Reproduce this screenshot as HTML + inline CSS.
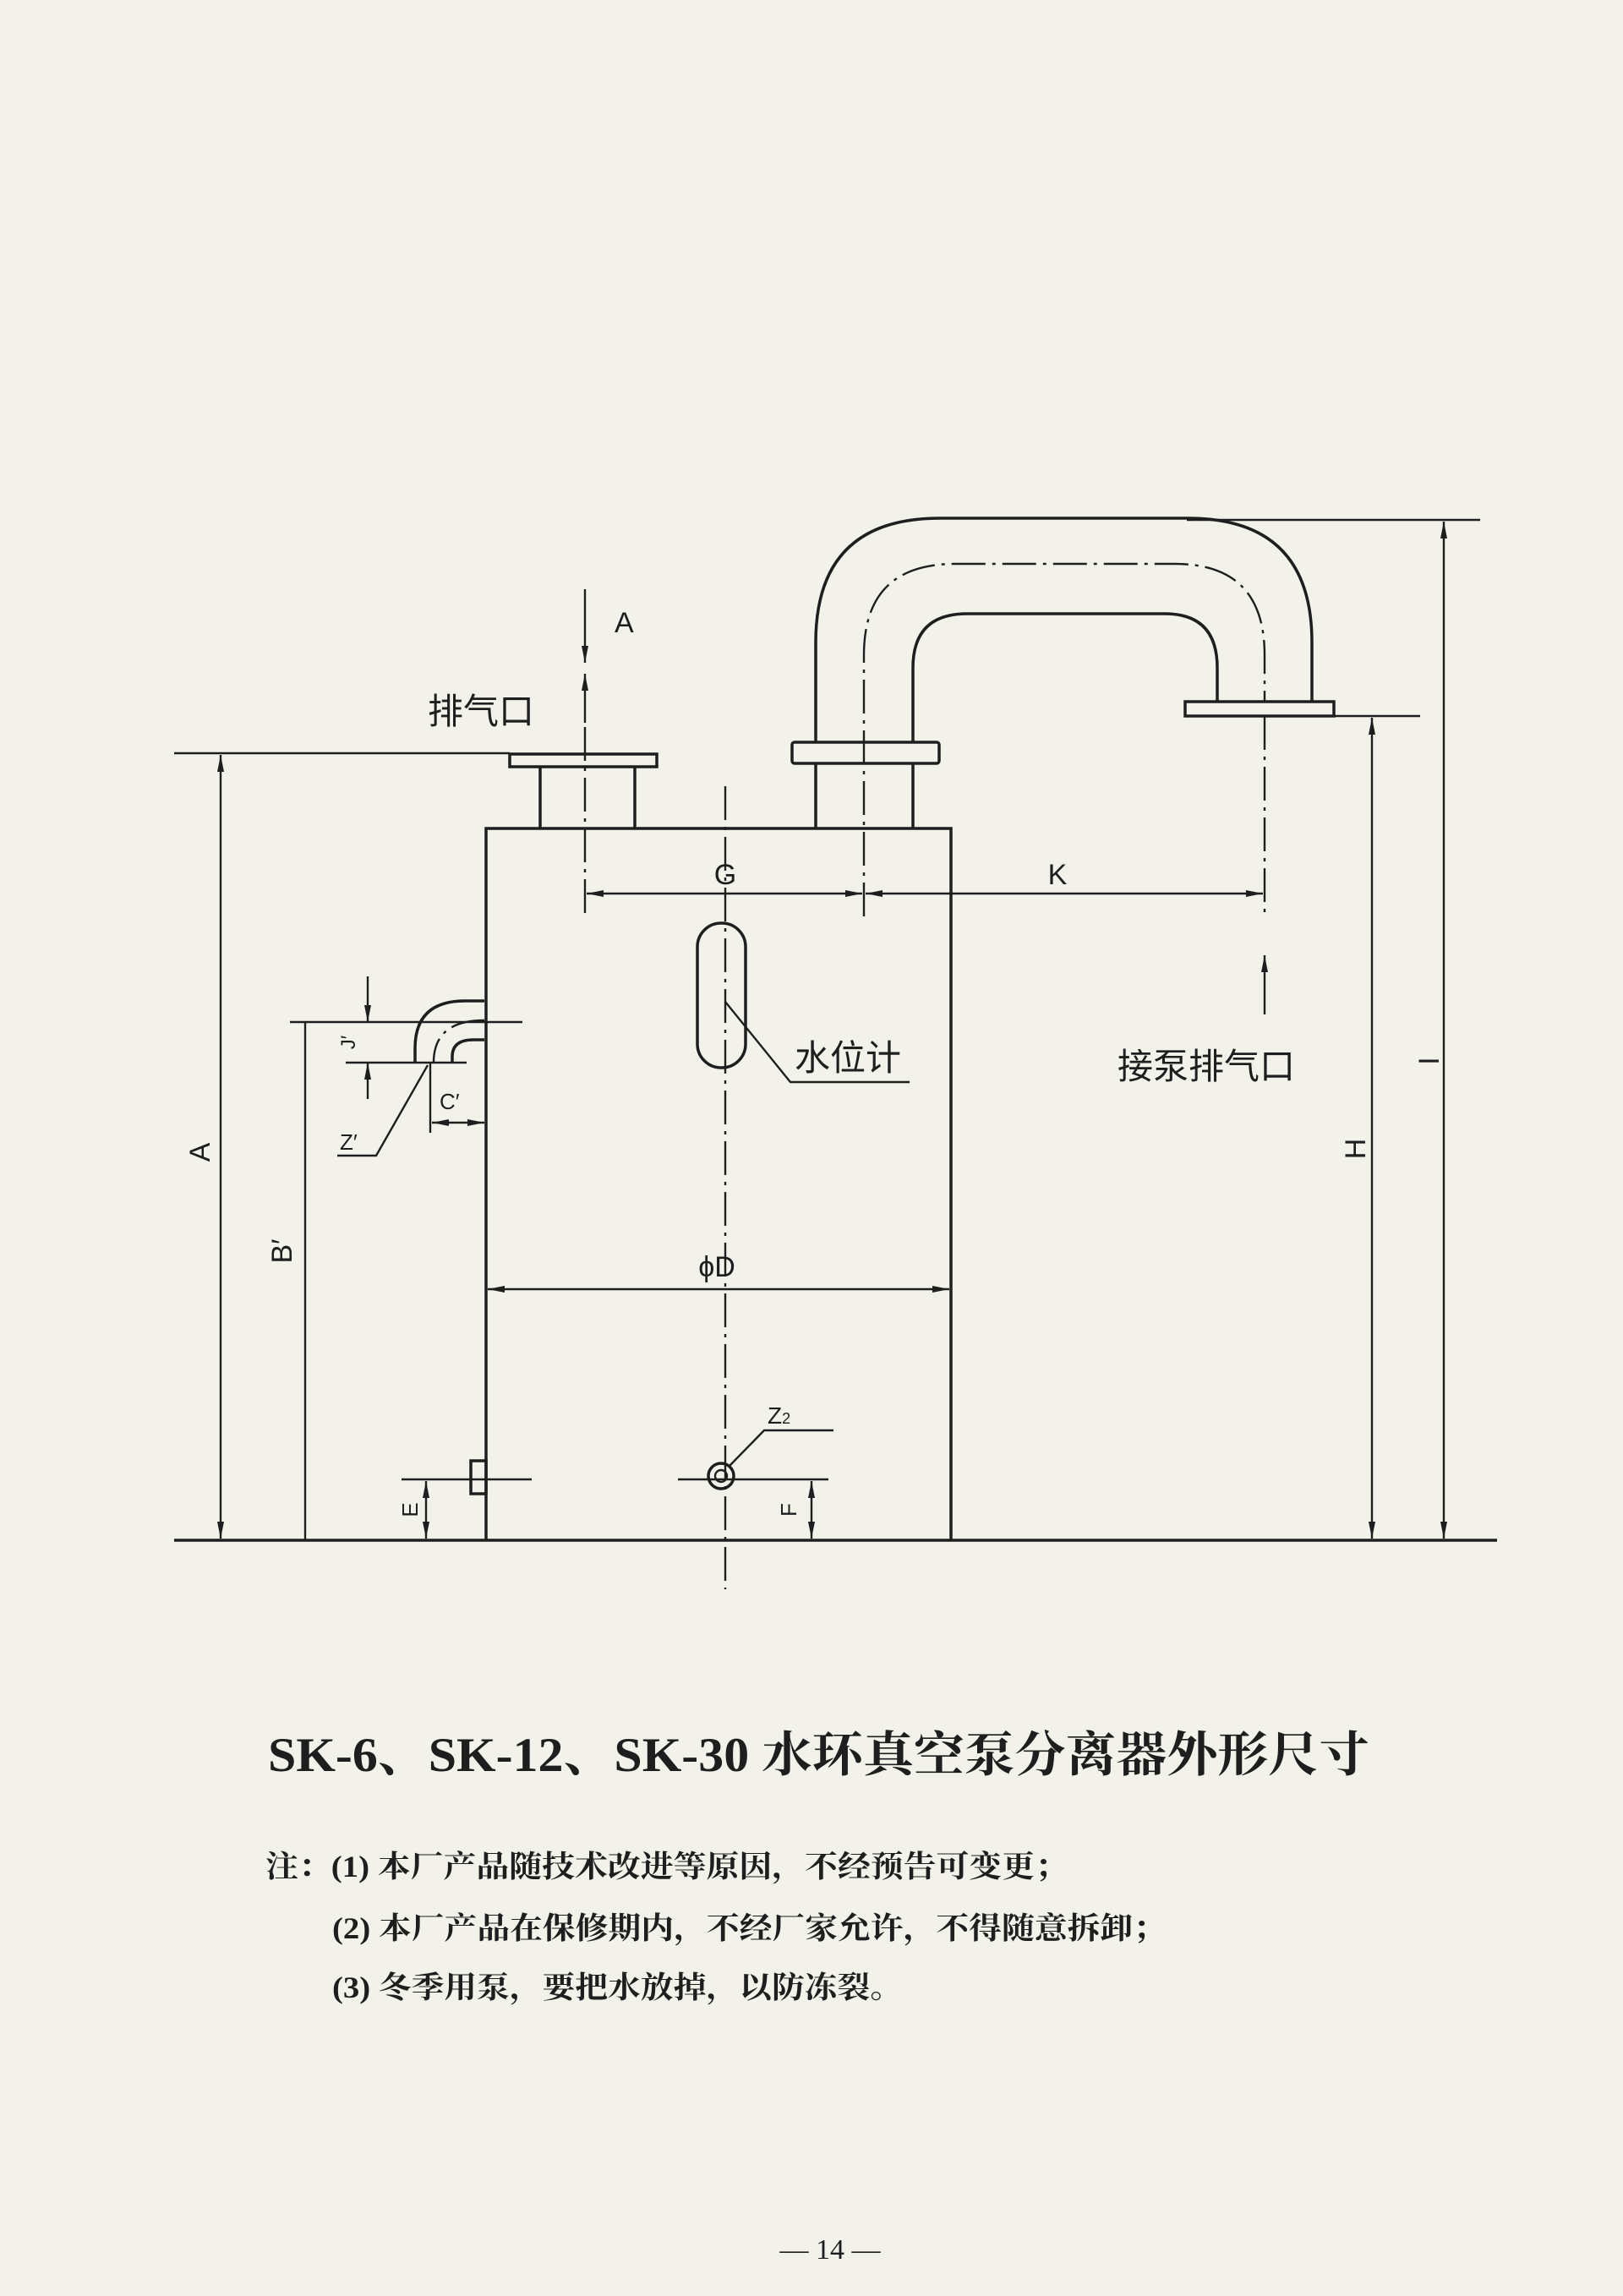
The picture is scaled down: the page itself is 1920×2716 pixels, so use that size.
<!DOCTYPE html>
<html><head><meta charset="utf-8">
<style>
html,body{margin:0;padding:0;background:#f3f2ea;}
svg{display:block;}
text{fill:#1e1e1e;}
.s{stroke:#1e1e1e;stroke-width:3.5;fill:none;}
.t{stroke:#1e1e1e;stroke-width:2.4;fill:none;}
.c{stroke:#1e1e1e;stroke-width:2.4;fill:none;stroke-dasharray:40,8,4,8;}
.lab{font-family:"Liberation Sans",sans-serif;font-size:34px;}
.cjk{font-family:"Liberation Sans","Noto Sans CJK SC",sans-serif;font-size:42px;}
</style></head>
<body>
<svg width="1920" height="2716" viewBox="0 0 1920 2716" xmlns="http://www.w3.org/2000/svg">
<defs>
<marker id="ar" viewBox="0 0 20 8" refX="20" refY="4" markerWidth="20" markerHeight="8" markerUnits="userSpaceOnUse" orient="auto-start-reverse">
<path d="M0,0 L20,4 L0,8 Z" fill="#1e1e1e"/></marker>
</defs>
<rect width="1920" height="2716" fill="#f3f2ea"/>

<line class="s" x1="206" y1="1822" x2="1771" y2="1822"/>
<polyline class="s" points="575,1822 575,980 1125,980 1125,1822"/>
<rect class="s" x="603" y="892" width="174" height="15"/>
<line class="s" x1="639" y1="907" x2="639" y2="980"/>
<line class="s" x1="751" y1="907" x2="751" y2="980"/>
<line class="t" x1="206" y1="891" x2="603" y2="891"/>
<line class="t" x1="692" y1="697" x2="692" y2="784" marker-end="url(#ar)"/>
<line class="t" x1="692" y1="855" x2="692" y2="797" marker-end="url(#ar)"/>
<line class="c" x1="692" y1="860" x2="692" y2="1084"/>
<text class="lab" x="727" y="748">A</text>
<text class="cjk" x="506" y="856">排气口</text>

<rect class="s" x="937" y="878" width="174" height="25" rx="3"/>
<line class="s" x1="965" y1="903" x2="965" y2="980"/>
<line class="s" x1="1080" y1="903" x2="1080" y2="980"/>
<path class="s" d="M965,878 L965,760 Q965,613 1112,613 L1405,613 Q1552,613 1552,760 L1552,830"/>
<path class="s" d="M1080,878 L1080,790 Q1080,726 1144,726 L1378,726 Q1440,726 1440,790 L1440,830"/>
<path class="c" d="M1022,1084 L1022,775 Q1022,667 1130,667 L1390,667 Q1496,667 1496,775 L1496,830"/>
<rect class="s" x="1402" y="830" width="176" height="17"/>
<line class="c" x1="1496" y1="847" x2="1496" y2="1084"/>
<line class="t" x1="1496" y1="1200" x2="1496" y2="1130" marker-end="url(#ar)"/>
<text class="cjk" x="1322" y="1276">接泵排气口</text>

<line class="t" x1="1404" y1="615" x2="1751" y2="615"/>
<line class="t" x1="1708" y1="617" x2="1708" y2="1820" marker-start="url(#ar)" marker-end="url(#ar)"/>
<line class="t" x1="1496" y1="847" x2="1680" y2="847"/>
<line class="t" x1="1623" y1="849" x2="1623" y2="1820" marker-start="url(#ar)" marker-end="url(#ar)"/>
<text class="lab" transform="translate(1702,1255) rotate(-90)" text-anchor="middle">I</text>
<text class="lab" transform="translate(1615,1359) rotate(-90)" text-anchor="middle">H</text>

<line class="t" x1="694" y1="1057" x2="1020" y2="1057" marker-start="url(#ar)" marker-end="url(#ar)"/>
<line class="t" x1="1024" y1="1057" x2="1494" y2="1057" marker-start="url(#ar)" marker-end="url(#ar)"/>
<text class="lab" x="858" y="1046" text-anchor="middle">G</text>
<text class="lab" x="1251" y="1046" text-anchor="middle">K</text>

<line class="c" x1="858" y1="930" x2="858" y2="1880"/>
<rect class="s" x="825" y="1092" width="57" height="171" rx="28"/>
<polyline class="t" points="858,1185 935,1280 1076,1280"/>
<text class="cjk" x="940" y="1266">水位计</text>

<line class="t" x1="577" y1="1525" x2="1123" y2="1525" marker-start="url(#ar)" marker-end="url(#ar)"/>
<text class="lab" x="848" y="1510" text-anchor="middle">ϕD</text>

<line class="t" x1="261" y1="893" x2="261" y2="1820" marker-start="url(#ar)" marker-end="url(#ar)"/>
<text class="lab" transform="translate(248,1363) rotate(-90)" text-anchor="middle">A</text>
<line class="t" x1="343" y1="1209" x2="618" y2="1209"/>
<line class="t" x1="361" y1="1209" x2="361" y2="1822"/>
<text class="lab" transform="translate(345,1480) rotate(-90)" text-anchor="middle">B′</text>

<path class="s" d="M573,1184 L550,1184 Q491,1184 491,1240 L491,1257"/>
<path class="s" d="M573,1230 L560,1230 Q535,1230 535,1250 L535,1257"/>
<path class="c" d="M573,1207 Q513,1207 513,1257"/>
<line class="t" x1="409" y1="1257" x2="552" y2="1257"/>
<line class="t" x1="435" y1="1155" x2="435" y2="1209" marker-end="url(#ar)"/>
<line class="t" x1="435" y1="1300" x2="435" y2="1257" marker-end="url(#ar)"/>
<text class="lab" style="font-size:24px" transform="translate(420,1233) rotate(-90)" text-anchor="middle">J′</text>
<line class="t" x1="509" y1="1257" x2="509" y2="1340"/>
<line class="t" x1="511" y1="1328" x2="573" y2="1328" marker-start="url(#ar)" marker-end="url(#ar)"/>
<text class="lab" style="font-size:26px" x="520" y="1312">C′</text>
<polyline class="t" points="506,1260 445,1367 399,1367"/>
<text class="lab" style="font-size:26px" x="402" y="1360">Z′</text>

<rect class="s" x="557" y="1728" width="18" height="39"/>
<line class="t" x1="475" y1="1750" x2="629" y2="1750"/>
<line class="t" x1="504" y1="1752" x2="504" y2="1820" marker-start="url(#ar)" marker-end="url(#ar)"/>
<text class="lab" style="font-size:26px" transform="translate(494,1786) rotate(-90)" text-anchor="middle">E</text>
<circle class="s" cx="853" cy="1746" r="15"/>
<circle class="t" cx="853" cy="1746" r="7"/>
<line class="t" x1="802" y1="1750" x2="980" y2="1750"/>
<line class="t" x1="960" y1="1752" x2="960" y2="1820" marker-start="url(#ar)" marker-end="url(#ar)"/>
<text class="lab" style="font-size:26px" transform="translate(942,1786) rotate(-90)" text-anchor="middle">F</text>
<polyline class="t" points="862,1735 904,1692 986,1692"/>
<text class="lab" style="font-size:28px" x="908" y="1684">Z<tspan style="font-size:18px">2</tspan></text>

<text x="317" y="2095" style="font-family:'Liberation Serif','Noto Serif CJK SC',serif;font-size:57px;font-weight:bold;" textLength="1303" lengthAdjust="spacingAndGlyphs">SK-6、SK-12、SK-30 水环真空泵分离器外形尺寸</text>
<g style="font-family:'Liberation Serif','Noto Serif CJK SC',serif;font-size:36px;font-weight:bold;">
<text x="314" y="2220" textLength="949" lengthAdjust="spacingAndGlyphs">注：(1) 本厂产品随技术改进等原因，不经预告可变更；</text>
<text x="393" y="2293" textLength="986" lengthAdjust="spacingAndGlyphs">(2) 本厂产品在保修期内，不经厂家允许，不得随意拆卸；</text>
<text x="393" y="2363" textLength="675" lengthAdjust="spacingAndGlyphs">(3) 冬季用泵，要把水放掉，以防冻裂。</text>
</g>
<text x="982" y="2672" text-anchor="middle" style="font-family:'Liberation Serif',serif;font-size:34px;">— 14 —</text>
</svg>
</body></html>
